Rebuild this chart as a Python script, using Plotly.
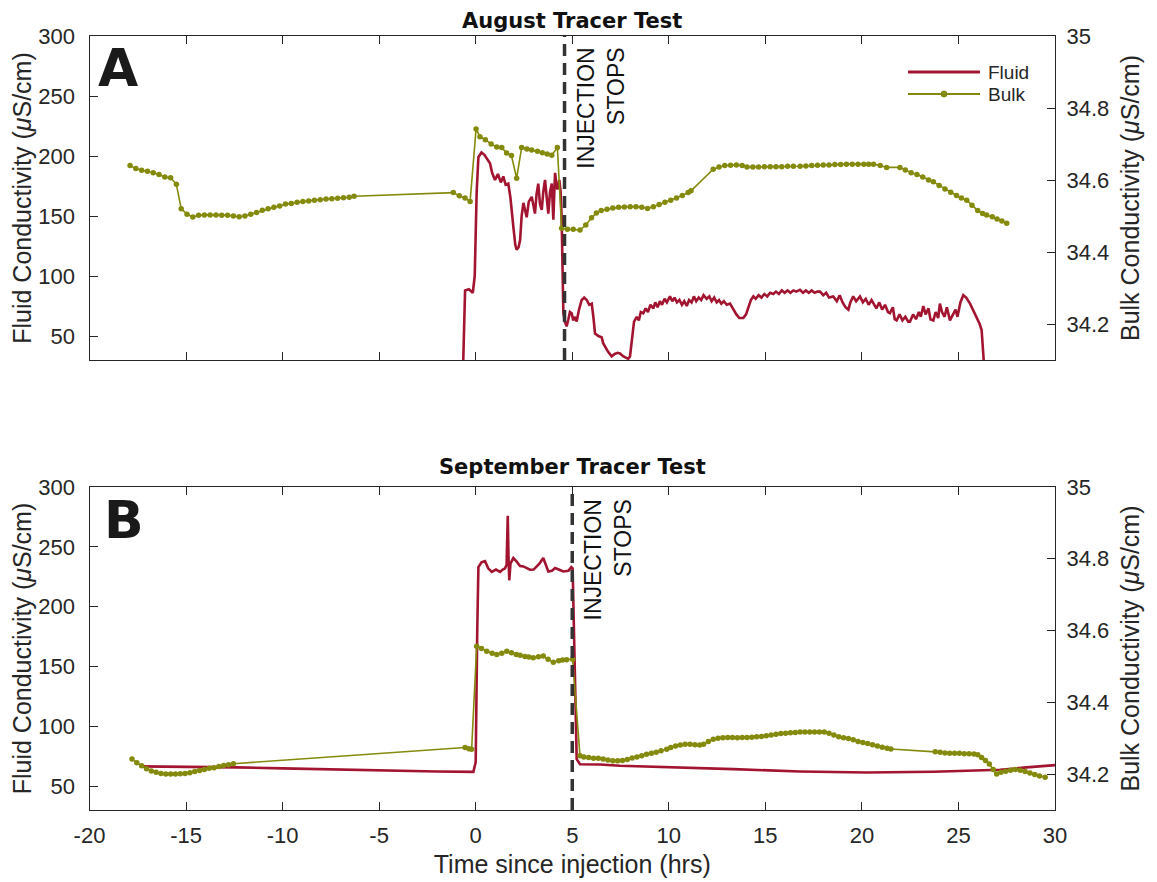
import plotly.graph_objects as go

# ---------------- DATA ----------------
# August (panel A) - fluid conductivity (uS/cm), left axis
aug_fluid_t = [-0.66, -0.60, -0.55, -0.35, -0.15, -0.05, 0.05, 0.14, 0.30, 0.45, 0.60, 0.74, 0.85, 1.0, 1.15, 1.30, 1.43, 1.55, 1.69, 1.80, 1.95, 2.05, 2.12, 2.22, 2.30, 2.38, 2.47, 2.56, 2.64, 2.75, 2.90, 3.0, 3.07, 3.15, 3.24, 3.33, 3.42, 3.50, 3.59, 3.68, 3.76, 3.85, 3.94, 4.02, 4.11, 4.17, 4.23, 4.33, 4.40, 4.45, 4.50, 4.54, 4.62, 4.71, 4.80, 4.88, 4.97, 5.05, 5.15, 5.23, 5.35, 5.49, 5.62, 5.75, 5.88, 6.01, 6.10, 6.18, 6.35, 6.52, 6.60, 6.70, 6.85, 7.04, 7.20, 7.35, 7.47, 7.65, 7.90, 7.99, 8.10, 8.20, 8.34, 8.45, 8.55, 8.68, 8.80, 8.92, 9.05, 9.20, 9.30, 9.42, 9.54, 9.65, 9.78, 9.90, 10.06, 10.18, 10.30, 10.42, 10.55, 10.68, 10.80, 10.93, 11.05, 11.18, 11.30, 11.42, 11.55, 11.68, 11.80, 11.96, 12.10, 12.22, 12.35, 12.48, 12.60, 12.72, 12.85, 13.0, 13.17, 13.35, 13.50, 13.65, 13.86, 14.0, 14.15, 14.25, 14.38, 14.50, 14.65, 14.80, 14.95, 15.10, 15.25, 15.41, 15.55, 15.70, 15.85, 16.0, 16.15, 16.30, 16.45, 16.60, 16.79, 16.95, 17.10, 17.25, 17.40, 17.55, 17.70, 17.83, 18.0, 18.15, 18.30, 18.52, 18.70, 18.85, 19.0, 19.15, 19.30, 19.40, 19.55, 19.70, 19.90, 20.05, 20.20, 20.35, 20.50, 20.59, 20.75, 20.90, 21.05, 21.20, 21.35, 21.45, 21.60, 21.70, 21.80, 21.95, 22.10, 22.25, 22.40, 22.49, 22.65, 22.80, 22.95, 23.05, 23.18, 23.30, 23.45, 23.55, 23.70, 23.82, 23.95, 24.04, 24.15, 24.28, 24.40, 24.56, 24.70, 24.85, 24.95, 25.10, 25.25, 25.40, 25.60, 25.80, 25.94, 26.10, 26.20, 26.29, 26.35]
aug_fluid_v = [20, 60, 88, 89, 86, 100, 170, 199, 203, 201, 197, 194, 186, 180, 185, 178, 183, 176, 177, 165, 141, 126, 122, 124, 130, 150, 161, 155, 149, 162, 166, 158, 152, 168, 177, 160, 155, 170, 180, 165, 152, 170, 177, 147, 186, 178, 172, 180, 170, 149, 100, 69, 62, 58, 64, 70, 69, 63, 66, 62, 72, 80, 82, 80, 76, 77, 65, 52, 50, 49, 44, 41, 37, 33, 35, 36, 35.5, 33, 31, 33, 50, 62, 66, 63, 70, 69, 73, 70, 76, 73, 78, 74, 79, 76, 81, 78, 83, 79, 82, 78, 80, 76, 79, 75, 80, 78, 83, 79, 82, 80, 84, 81, 83, 79, 82, 78, 80, 77, 79, 76, 77, 72, 68, 65, 65, 68, 75, 80, 83, 81, 84, 82, 85, 83, 86, 85, 87, 85, 88, 86, 88, 86, 88, 87, 88.5, 86, 88, 86, 88, 86, 87, 87, 84, 86, 82, 83, 79, 84, 78, 74, 72, 78, 83, 79, 83, 78, 81, 76, 80, 77, 73, 78, 72, 76, 70, 69, 74, 64, 63, 68, 63, 66, 62, 62, 68, 64, 70, 66, 75, 68, 73, 64, 63, 70, 65, 77, 70, 66, 74, 63, 68, 72, 66, 78, 84, 82, 77, 70, 66, 60, 55, 31, 20]

# August (panel A) - bulk conductivity (uS/cm), right axis
aug_bulk_t = [-17.9, -17.6, -17.3, -17.0, -16.7, -16.4, -16.1, -15.8, -15.5, -15.25, -14.95, -14.65, -14.35, -14.05, -13.75, -13.45, -13.15, -12.85, -12.55, -12.25, -11.95, -11.65, -11.35, -11.05, -10.75, -10.45, -10.15, -9.85, -9.55, -9.25, -8.95, -8.65, -8.35, -8.05, -7.75, -7.45, -7.15, -6.85, -6.55, -6.30,
              -1.16, -0.85, -0.55, -0.29, 0.02, 0.22, 0.5, 0.8, 1.09, 1.35, 1.6, 1.85, 2.12, 2.38, 2.65, 2.9, 3.2, 3.45, 3.7, 3.94, 4.23, 4.45, 4.75, 5.05, 5.4, 5.7, 6.0, 6.25, 6.5, 6.8, 7.1, 7.4, 7.7, 8.0, 8.3, 8.6, 8.9, 9.2, 9.5, 9.8, 10.1, 10.4, 10.7, 11.0, 11.15,
              12.3, 12.6, 12.9, 13.2, 13.5, 13.8, 14.05, 14.35, 14.65, 14.95, 15.25, 15.55, 15.85, 16.15, 16.45, 16.8, 17.1, 17.4, 17.7, 18.0, 18.3, 18.6, 18.9, 19.2, 19.5, 19.8, 20.1, 20.35, 20.6, 20.95, 21.28,
              21.97, 22.25, 22.55, 22.85, 23.15, 23.45, 23.7, 24.0, 24.3, 24.6, 24.9, 25.15, 25.43, 25.7, 26.0, 26.25, 26.46, 26.75, 27.0, 27.25, 27.5]
aug_bulk_v = [34.640, 34.632, 34.627, 34.624, 34.620, 34.615, 34.608, 34.606, 34.588, 34.520, 34.505, 34.497, 34.502, 34.503, 34.503, 34.503, 34.502, 34.502, 34.500, 34.498, 34.500, 34.505, 34.510, 34.516, 34.520, 34.524, 34.528, 34.533, 34.535, 34.538, 34.540, 34.542, 34.544, 34.545, 34.547, 34.548, 34.549, 34.551, 34.552, 34.555,
              34.565, 34.556, 34.550, 34.540, 34.742, 34.720, 34.712, 34.700, 34.692, 34.690, 34.675, 34.668, 34.605, 34.690, 34.686, 34.683, 34.680, 34.676, 34.672, 34.669, 34.690, 34.466, 34.463, 34.463, 34.461, 34.475, 34.495, 34.508, 34.515, 34.519, 34.522, 34.524, 34.525, 34.526, 34.526, 34.524, 34.521, 34.526, 34.532, 34.538, 34.544, 34.550, 34.557, 34.565, 34.570,
              34.630, 34.636, 34.640, 34.641, 34.642, 34.640, 34.636, 34.636, 34.636, 34.637, 34.637, 34.637, 34.637, 34.638, 34.638, 34.638, 34.639, 34.640, 34.641, 34.642, 34.642, 34.643, 34.643, 34.644, 34.644, 34.644, 34.644, 34.644, 34.644, 34.640, 34.635,
              34.635, 34.628, 34.620, 34.615, 34.608, 34.600, 34.595, 34.585, 34.575, 34.566, 34.557, 34.550, 34.544, 34.530, 34.515, 34.507, 34.503, 34.498, 34.492, 34.486, 34.480]

# September (panel B) - fluid conductivity
sep_fluid_t = [-17.4, -16.0, -14.0, -12.4, -10.0, -8.0, -6.7, -4.0, -2.0, -0.12, 0.0, 0.08, 0.14, 0.30, 0.48, 0.65, 0.83, 1.05, 1.26, 1.40, 1.52, 1.60, 1.66, 1.70, 1.74, 1.80, 1.95, 2.10, 2.30, 2.47, 2.65, 2.81, 3.0, 3.16, 3.30, 3.50, 3.62, 3.76, 3.95, 4.11, 4.30, 4.54, 4.80, 4.95, 5.02, 5.10, 5.18, 5.23, 5.40, 6.44, 7.47, 9.89, 13.34, 16.79, 20.25, 23.70, 25.5, 27.15, 28.53, 30.0]
sep_fluid_v = [66.5, 66.3, 66.0, 65.6, 64.8, 64.0, 63.6, 62.8, 62.2, 61.9, 70, 180, 233, 237, 238, 232, 229, 231, 229, 231, 232, 235, 276, 240, 222, 236, 240.6, 238, 234, 233.6, 232, 230.8, 231, 233.6, 236, 240.6, 236, 229.4, 230, 232.3, 231, 229.4, 230, 233, 232, 170, 100, 72.5, 68.3, 68, 67, 66, 64.2, 62.2, 61.4, 62, 63, 63.6, 65.6, 67.5]

# September (panel B) - bulk conductivity
sep_bulk_t = [-17.8, -17.55, -17.3, -17.05, -16.8, -16.55, -16.3, -16.05, -15.8, -15.55, -15.3, -15.05, -14.8, -14.55, -14.3, -14.05, -13.8, -13.55, -13.3, -13.05, -12.8, -12.55,
              -0.55, -0.35, -0.21, 0.05, 0.3, 0.57, 0.85, 1.09, 1.35, 1.61, 1.85, 2.1, 2.3, 2.55, 2.75, 2.98, 3.25, 3.5, 3.75, 4.02, 4.3, 4.5, 4.71, 5.02,
              5.40, 5.6, 5.85, 6.1, 6.35, 6.6, 6.85, 7.1, 7.35, 7.6, 7.85, 8.1, 8.35, 8.6, 8.85, 9.1, 9.35, 9.6, 9.89, 10.1, 10.35, 10.6, 10.85, 11.1, 11.35, 11.6, 11.8, 12.05, 12.3, 12.55, 12.8, 13.05, 13.3, 13.55, 13.8, 14.05, 14.3, 14.55, 14.8, 15.05, 15.3, 15.55, 15.8, 16.05, 16.3, 16.55, 16.8, 17.05, 17.3, 17.55, 17.8, 18.05, 18.3, 18.55, 18.8, 19.05, 19.3, 19.55, 19.8, 20.05, 20.3, 20.55, 20.8, 21.05, 21.3, 21.5,
              23.8, 24.05, 24.3, 24.55, 24.8, 25.05, 25.3, 25.55, 25.8, 26.0, 26.2, 26.4, 26.6, 26.8, 26.98, 27.2, 27.45, 27.7, 27.95, 28.2, 28.45, 28.7, 28.95, 29.2, 29.49]
sep_bulk_v = [34.242, 34.232, 34.223, 34.215, 34.209, 34.205, 34.202, 34.200, 34.200, 34.200, 34.201, 34.202, 34.204, 34.207, 34.210, 34.213, 34.216, 34.218, 34.221, 34.224, 34.226, 34.229,
              34.274, 34.271, 34.269, 34.556, 34.550, 34.542, 34.537, 34.533, 34.537, 34.542, 34.538, 34.533, 34.531, 34.528, 34.526, 34.524, 34.527, 34.529, 34.520, 34.512, 34.516, 34.518, 34.519, 34.520,
              34.251, 34.248, 34.246, 34.244, 34.244, 34.242, 34.239, 34.237, 34.237, 34.238, 34.241, 34.245, 34.248, 34.251, 34.255, 34.258, 34.261, 34.265, 34.269, 34.274, 34.278, 34.281, 34.283, 34.283, 34.282, 34.281, 34.283, 34.291, 34.297, 34.300, 34.301, 34.302, 34.302, 34.301, 34.302, 34.302, 34.303, 34.304, 34.305, 34.307, 34.309, 34.311, 34.313, 34.314, 34.315, 34.316, 34.317, 34.317, 34.317, 34.317, 34.317, 34.317, 34.314, 34.309, 34.304, 34.301, 34.299, 34.296, 34.291, 34.288, 34.285, 34.282, 34.278, 34.275, 34.272, 34.270,
              34.262, 34.261, 34.259, 34.258, 34.258, 34.258, 34.257, 34.257, 34.256, 34.254, 34.246, 34.238, 34.228, 34.213, 34.200, 34.205, 34.208, 34.211, 34.213, 34.211, 34.207, 34.203, 34.199, 34.195, 34.191]

injection_stop_aug = 4.6
injection_stop_sep = 5.0

x_ticks = [-20, -15, -10, -5, 0, 5, 10, 15, 20, 25, 30]
x_tick_labels = ["-20", "-15", "-10", "-5", "0", "5", "10", "15", "20", "25", "30"]
left_ticks = [50, 100, 150, 200, 250, 300]
right_ticks = [34.2, 34.4, 34.6, 34.8, 35.0]
right_tick_labels = ["34.2", "34.4", "34.6", "34.8", "35"]
legend_labels = ["Fluid", "Bulk"]

# ---------------- STYLE ----------------
W, H = 1157, 882
OFF = 8  # page body margin in the browser
RED = "#A2142F"
OLIVE = "#848A0C"
AXC = "#262626"
FAM = "Liberation Sans, Arial, sans-serif"
TICKFONT = dict(family=FAM, size=22, color=AXC)
TITLEFONT = dict(family=FAM, size=25, color=AXC)

def px(xp):
    return (xp - OFF) / W

def py(yp):
    return 1 - (yp - OFF) / H

x0, x1 = px(89.5), px(1055)
top_dom = [py(360), py(36)]
bot_dom = [py(810), py(487)]

fig = go.Figure()

fig.add_trace(go.Scatter(x=aug_fluid_t, y=aug_fluid_v, mode="lines", name=legend_labels[0],
                         line=dict(color=RED, width=2.6), xaxis="x", yaxis="y"))
fig.add_trace(go.Scatter(x=aug_bulk_t, y=aug_bulk_v, mode="lines+markers", name=legend_labels[1],
                         line=dict(color=OLIVE, width=1.6), marker=dict(color=OLIVE, size=5.5),
                         xaxis="x", yaxis="y2"))
fig.add_trace(go.Scatter(x=sep_fluid_t, y=sep_fluid_v, mode="lines", name=legend_labels[0],
                         line=dict(color=RED, width=2.6), xaxis="x2", yaxis="y3"))
fig.add_trace(go.Scatter(x=sep_bulk_t, y=sep_bulk_v, mode="lines+markers", name=legend_labels[1],
                         line=dict(color=OLIVE, width=1.6), marker=dict(color=OLIVE, size=5.5),
                         xaxis="x2", yaxis="y4"))

xcommon = dict(range=[-20, 30], tickvals=x_ticks, ticktext=x_tick_labels, ticks="inside", ticklen=8,
               tickcolor=AXC, showline=True, linecolor=AXC, linewidth=1.2, mirror="ticks",
               showgrid=False, zeroline=False, tickfont=TICKFONT, domain=[x0, x1], automargin=False,
               ticklabelstandoff=5)
ylcommon = dict(range=[30, 300], tickvals=left_ticks, ticks="inside", ticklen=8, tickcolor=AXC,
                showline=True, linecolor=AXC, linewidth=1.2, showgrid=False, zeroline=False,
                tickfont=TICKFONT, ticklabelstandoff=9, automargin=False,
                title=dict(text="Fluid Conductivity (<i>μ</i>S/cm)", font=TITLEFONT, standoff=1))
yrcommon = dict(range=[34.1, 35], tickvals=right_ticks, ticktext=right_tick_labels, ticks="inside",
                ticklen=8, tickcolor=AXC, showline=True, linecolor=AXC, linewidth=1.2, showgrid=False,
                zeroline=False, tickfont=TICKFONT, side="right", ticklabelstandoff=6, automargin=False,
                title=dict(text="Bulk Conductivity (<i>μ</i>S/cm)", font=TITLEFONT, standoff=13))

fig.update_layout(
    width=W, height=H,
    margin=dict(l=0, r=0, t=0, b=0, autoexpand=False),
    paper_bgcolor="white", plot_bgcolor="white",
    xaxis=dict(**xcommon, anchor="y", showticklabels=False),
    yaxis=dict(**ylcommon, domain=top_dom, anchor="x"),
    yaxis2=dict(**yrcommon, overlaying="y", anchor="x"),
    xaxis2=dict(**xcommon, anchor="y3",
                title=dict(text="Time since injection (hrs)", font=TITLEFONT, standoff=8)),
    yaxis3=dict(**ylcommon, domain=bot_dom, anchor="x2"),
    yaxis4=dict(**yrcommon, overlaying="y3", anchor="x2"),
    showlegend=False,
)

# injection-stop dashed lines
for xref, yref, xv in [("x", "y domain", injection_stop_aug), ("x2", "y3 domain", injection_stop_sep)]:
    fig.add_shape(type="line", xref=xref, yref=yref, x0=xv, x1=xv, y0=0, y1=1,
                  line=dict(color="#333333", width=3.5, dash="12px,7px"), layer="above")

# legend (drawn manually to match sample length)
fig.add_shape(type="line", xref="paper", yref="paper", x0=px(908), x1=px(980), y0=py(72), y1=py(72),
              line=dict(color=RED, width=3))
fig.add_shape(type="line", xref="paper", yref="paper", x0=px(908), x1=px(980), y0=py(94), y1=py(94),
              line=dict(color=OLIVE, width=2))
fig.add_shape(type="circle", xref="paper", yref="paper", x0=px(941), x1=px(947), y0=py(97), y1=py(91),
              line=dict(color=OLIVE, width=1), fillcolor=OLIVE)
leg_font = dict(family=FAM, size=19, color=AXC)
fig.add_annotation(text=legend_labels[0], xref="paper", yref="paper", x=px(986), y=py(72),
                   xanchor="left", yanchor="middle", showarrow=False, font=leg_font)
fig.add_annotation(text=legend_labels[1], xref="paper", yref="paper", x=px(986), y=py(94),
                   xanchor="left", yanchor="middle", showarrow=False, font=leg_font)

ann_font = dict(family=FAM, size=23, color="#111111")
fig.add_annotation(text="INJECTION<br>STOPS", xref="x", yref="paper", x=6.5, y=py(46),
                   xanchor="center", yanchor="top", textangle=-90, align="right",
                   showarrow=False, font=ann_font)
fig.add_annotation(text="INJECTION<br>STOPS", xref="x2", yref="paper", x=6.85, y=py(497),
                   xanchor="center", yanchor="top", textangle=-90, align="right",
                   showarrow=False, font=ann_font)

title_font = dict(family="DejaVu Sans, Verdana, sans-serif", size=21, color="#111111")
fig.add_annotation(text="<b>August Tracer Test</b>", xref="paper", yref="paper",
                   x=(x0 + x1) / 2, y=py(8), xanchor="center", yanchor="top", borderpad=0,
                   showarrow=False, font=title_font)
fig.add_annotation(text="<b>September Tracer Test</b>", xref="paper", yref="paper",
                   x=(x0 + x1) / 2, y=py(467), xanchor="center", yanchor="middle",
                   showarrow=False, font=title_font)

letter_font = dict(family="DejaVu Sans, Verdana, sans-serif", size=52, color="#1a1a1a")
fig.add_annotation(text="<b>A</b>", xref="paper", yref="paper", x=px(118), y=py(68),
                   xanchor="center", yanchor="middle", showarrow=False, font=letter_font)
fig.add_annotation(text="<b>B</b>", xref="paper", yref="paper", x=px(124), y=py(520),
                   xanchor="center", yanchor="middle", showarrow=False, font=letter_font)

fig.write_html("out.html")
